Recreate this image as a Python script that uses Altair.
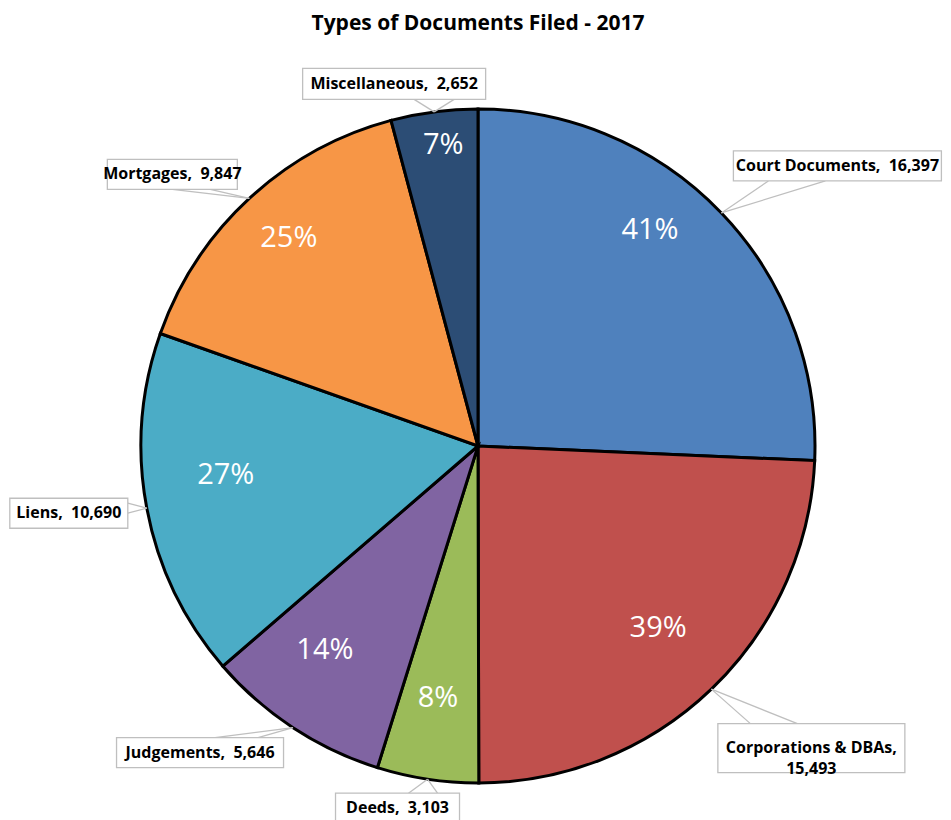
import altair as alt
import pandas as pd

# ---- data ----
categories = ["Court Documents", "Corporations & DBAs", "Deeds", "Judgements",
              "Liens", "Mortgages", "Miscellaneous"]
values = [16397, 15493, 3103, 5646, 10690, 9847, 2652]
pct_labels = ["41%", "39%", "8%", "14%", "27%", "25%", "7%"]
two_line = ["Corporations & DBAs"]

# ---- styling / layout ----
colors = ["#4F81BD", "#C0504D", "#9BBB59", "#8064A2", "#4BACC6", "#F79646", "#2C4D75"]
W, H = 935, 744
CX, CY, R = 470, 370, 337
# percentage label placement (radius, angle tweak in degrees)
pct_r = [276, 256, 255, 255, 254, 281, 303]
pct_da = [-7.7, -0.9, 0.4, 3.6, 4.0, 0.4, 0.9]
# callout box offset from the slice edge point, and box size
box_dx = [116, 100, -30, -93, -78, -77, -40]
box_dy = [-47, 59, 29, 25, 5, -24, -28]
box_w = [208, 187, 124, 167, 118, 130, 183]
box_h = [30, 49, 30, 30, 30, 30, 31]
# callout pointer base points relative to box centre
b1 = [(-69, 15), (-61, -24.5), (11, -15), (15, -15), (59, -10), (0, 15), (20, 15.5)]
b2 = [(-12, 15), (-14, -24.5), (40, -15), (58, -15), (59, 0), (38, 15), (60, 15.5)]

def callout(c, v):
    sep = ",\n" if c in two_line else ",\u00a0 "
    return f"{c}{sep}{v:,}"

df = pd.DataFrame({
    "idx": list(range(len(categories))),
    "category": categories,
    "value": values,
    "pct": pct_labels,
    "callout": [callout(c, v) for c, v in zip(categories, values)],
    "pr": pct_r, "pda": pct_da,
    "bdx": box_dx, "bdy": box_dy, "bw": box_w, "bh": box_h,
    "b1x": [p[0] for p in b1], "b1y": [p[1] for p in b1],
    "b2x": [p[0] for p in b2], "b2y": [p[1] for p in b2],
})

base = alt.Chart(df)

geo = base.transform_joinaggregate(total="sum(value)").transform_window(
    cum="sum(value)", sort=[alt.SortField("idx")], frame=[None, 0]
).transform_calculate(
    mid="(datum.cum - datum.value/2) / datum.total * 2 * PI",
).transform_calculate(
    tipx=f"{CX} + {R} * sin(datum.mid)",
    tipy=f"{CY} - {R} * cos(datum.mid)",
    px=f"{CX} + datum.pr * sin(datum.mid + datum.pda * PI / 180)",
    py=f"{CY} - datum.pr * cos(datum.mid + datum.pda * PI / 180)",
).transform_calculate(
    bcx="datum.tipx + datum.bdx",
    bcy="datum.tipy + datum.bdy",
).transform_calculate(
    bx1="datum.bcx - datum.bw / 2", bx2="datum.bcx + datum.bw / 2",
    by1="datum.bcy - datum.bh / 2", by2="datum.bcy + datum.bh / 2",
    w1x="datum.bcx + datum.b1x", w1y="datum.bcy + datum.b1y",
    w2x="datum.bcx + datum.b2x", w2y="datum.bcy + datum.b2y",
)

def X(f):
    return alt.X(f"{f}:Q", scale=None, axis=None)

def Y(f):
    return alt.Y(f"{f}:Q", scale=None, axis=None)

arcs = base.mark_arc(outerRadius=R, stroke="black", strokeWidth=3).encode(
    theta=alt.Theta("value:Q", stack=True),
    order=alt.Order("idx:Q"),
    color=alt.Color("category:N", scale=alt.Scale(domain=categories, range=colors), legend=None),
    x=alt.value(CX),
    y=alt.value(CY),
)

pct_text = geo.mark_text(font="Open Sans", fontSize=29, color="white",
                         align="center", baseline="middle").encode(
    x=X("px"), y=Y("py"), text="pct:N")

wedge1 = geo.mark_rule(color="#BFBFBF", strokeWidth=1.3).encode(
    x=X("w1x"), y=Y("w1y"), x2="tipx:Q", y2="tipy:Q")
wedge2 = geo.mark_rule(color="#BFBFBF", strokeWidth=1.3).encode(
    x=X("w2x"), y=Y("w2y"), x2="tipx:Q", y2="tipy:Q")

boxes = geo.mark_rect(fill="white", stroke="#BFBFBF", strokeWidth=1.3).encode(
    x=X("bx1"), x2="bx2:Q", y=Y("by1"), y2="by2:Q")

labels = geo.mark_text(font="Open Sans", fontSize=16, fontWeight="bold", color="black",
                       align="center", baseline="middle", lineBreak="\n",
                       lineHeight=21).encode(
    x=X("bcx"), y=Y("bcy"), text="callout:N")

chart = alt.layer(arcs, pct_text, wedge1, wedge2, boxes, labels).properties(
    width=W, height=H,
    autosize=alt.AutoSizeParams(type="none"),
    padding={"left": 0, "top": 68, "right": 0, "bottom": 0},
    title=alt.TitleParams("Types of Documents Filed - 2017", font="Open Sans",
                          fontSize=21, fontWeight="bold", color="black",
                          anchor="start", dx=CX, align="center", offset=34),
).configure_view(stroke=None)

chart.save("out.html", embed_options={"renderer": "svg", "actions": False})
